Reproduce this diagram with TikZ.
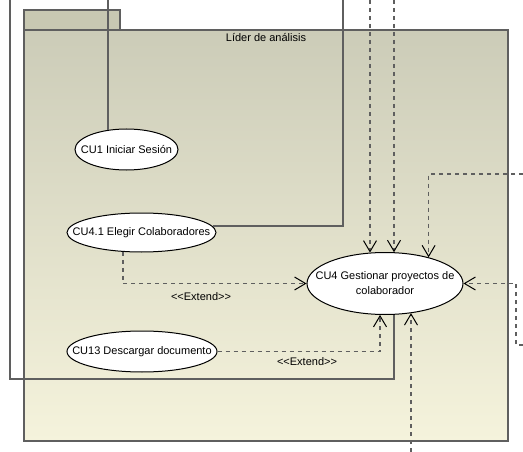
\documentclass[tikz,border=0pt]{standalone}
\usepackage{fontspec}
\setmainfont{Liberation Sans}
\usetikzlibrary{positioning,shapes.geometric,arrows.meta}
\definecolor{pkgtab}{RGB}{200,200,178}
\definecolor{pkgtop}{RGB}{204,204,184}
\definecolor{pkgbot}{RGB}{245,243,220}
\definecolor{edgegray}{RGB}{95,95,95}

\begin{document}
\begin{tikzpicture}[x=1pt, y=-1pt, font=\fontsize{11}{15}\selectfont,
    pkgline/.style={draw=edgegray, line width=1.7pt},
    uc/.style={ellipse, draw=black, fill=white, inner sep=0pt, line width=1pt},
    assoc/.style={draw=edgegray, line width=1.8pt},
    ext/.style={draw=edgegray, line width=1.8pt, dash pattern=on 4pt off 4pt,
        -{Straight Barb[length=11pt, width=13pt, line width=1pt, black]}}]
    \useasboundingbox (0,0) rectangle (523,452);

    % Package
    \draw[pkgline, fill=pkgtab] (24,10) rectangle (120,30);
    \draw[pkgline, top color=pkgtop, bottom color=pkgbot] (24,30) rectangle (508,441);
    \node (title) at (266,38) {Líder de análisis};

    % Use cases
    \node[uc, minimum width=103, minimum height=41,
        label={[name=cu1-text]center:CU1 Iniciar Sesión}] (cu1) at (126.5,149.5) {};
    \node[uc, minimum width=149, minimum height=39,
        label={[name=cu41-text]center:CU4.1 Elegir Colaboradores}] (cu41) at (141.5,232.5) {};
    \node[uc, minimum width=150, minimum height=41,
        label={[name=cu13-text]center:CU13 Descargar documento}] (cu13) at (142,351.5) {};
    \node[uc, minimum width=156, minimum height=62,
        label={[name=cu4-text, align=center]center:{CU4 Gestionar proyectos de\\colaborador}}] (cu4) at (385,283.5) {};

    % Ends outside the package
    \coordinate (top1) at (10,0);
    \coordinate (top2) at (108,0);
    \coordinate (top3) at (343,0);
    \coordinate (top4) at (370,0);
    \coordinate (top5) at (394,0);
    \coordinate (right1) at (523,174);
    \coordinate (right2) at (523,345);
    \coordinate (bottom1) at (411,452);
    \coordinate (corner1) at (394,379);
    \coordinate (corner2) at (516,345);

    % Associations
    \draw[assoc] (top1) |- (corner1) -- (corner1 |- cu4.286);
    \draw[assoc] (top2) -- (top2 |- cu1.134);
    \draw[assoc] (top3) |- (cu41.5);

    % Extend / dependencies
    \draw[ext] (top4) -- (top4 |- cu4.116);
    \draw[ext] (top5) -- (top5 |- cu4.74);
    \draw[ext] (right1) -| (cu4.31);
    \draw[ext] (right2) -- (corner2) |- (cu4.east);
    \draw[ext] (cu41.226) |- (cu4.west);
    \draw[ext] (cu13.east) -| (cu4.261);
    \draw[ext] (bottom1) -- (bottom1 |- cu4.312);

    % Labels
    \node (ext1) at (201,297) {<\kern0pt<Extend>\kern0pt>};
    \node (ext2) at (307,362) {<\kern0pt<Extend>\kern0pt>};
\end{tikzpicture}
\end{document}
